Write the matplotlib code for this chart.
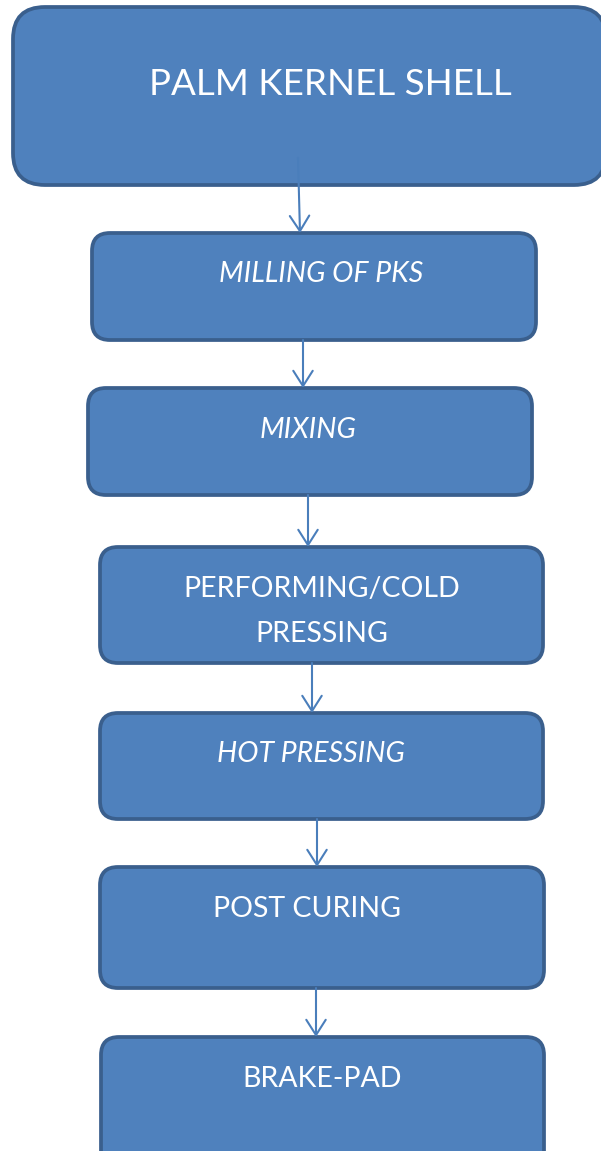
import matplotlib.pyplot as plt
from matplotlib.patches import FancyBboxPatch

# flowchart content
steps = [
    "PALM KERNEL SHELL",
    "MILLING OF PKS",
    "MIXING",
    "PERFORMING/COLD\nPRESSING",
    "HOT PRESSING",
    "POST CURING",
    "BRAKE-PAD",
]
italic = [False, True, True, False, True, False, False]

# layout in pixels: left, top, right, bottom, corner radius
boxes = [
    (13, 7, 606, 185, 32),
    (92, 233, 536, 340, 18),
    (88, 388, 532, 495, 18),
    (100, 547, 543, 663, 18),
    (100, 713, 543, 819, 18),
    (100, 867, 544, 988, 18),
    (101, 1037, 544, 1170, 18),
]
# text centre x and first baseline y
text_pos = [(330, 95), (321, 282), (308, 438), (322, 597),
            (311, 762), (307, 917), (322, 1087)]
font_sizes = [26.5, 20.5, 20.5, 20.5, 20.5, 20.5, 20.5]
# arrows: x start, y start, x end, y end
arrows = [(298, 158, 300, 233), (303, 340, 303, 388), (308, 495, 308, 547),
          (312, 663, 312, 713), (317, 819, 317, 867), (316, 988, 316, 1037)]

FILL = "#4f81bd"
EDGE = "#3a5f8d"
ARROW = "#4a7ebb"

plt.rcParams["font.family"] = ["Lato", "DejaVu Sans"]


def draw_box(ax, box):
    left, top, right, bottom, r = box
    patch = FancyBboxPatch(
        (left, top), right - left, bottom - top,
        boxstyle=f"round,pad=0,rounding_size={r}",
        facecolor=FILL, edgecolor=EDGE, linewidth=2.7,
    )
    ax.add_patch(patch)


def draw_label(ax, label, pos, size, is_italic):
    x, y = pos
    for i, line in enumerate(label.split("\n")):
        ax.text(x, y + i * 45, line, ha="center", va="baseline",
                color="white", fontsize=size,
                style="italic" if is_italic else "normal")


def main():
    fig = plt.figure(figsize=(6.01, 11.51), dpi=100)
    ax = fig.add_axes([0, 0, 1, 1])
    ax.set_xlim(0, 601)
    ax.set_ylim(1151, 0)
    ax.axis("off")

    for x0, y0, x1, y1 in arrows:
        ax.annotate("", xy=(x1, y1), xytext=(x0, y0),
                    arrowprops=dict(arrowstyle="->,head_length=1.1,head_width=0.7",
                                    color=ARROW, lw=1.5, shrinkA=0, shrinkB=0,
                                    mutation_scale=10),
                    zorder=3)

    for box, label, pos, size, it in zip(boxes, steps, text_pos, font_sizes, italic):
        draw_box(ax, box)
        draw_label(ax, label, pos, size, it)

    fig.savefig("out.png", dpi=100)


if __name__ == "__main__":
    main()
